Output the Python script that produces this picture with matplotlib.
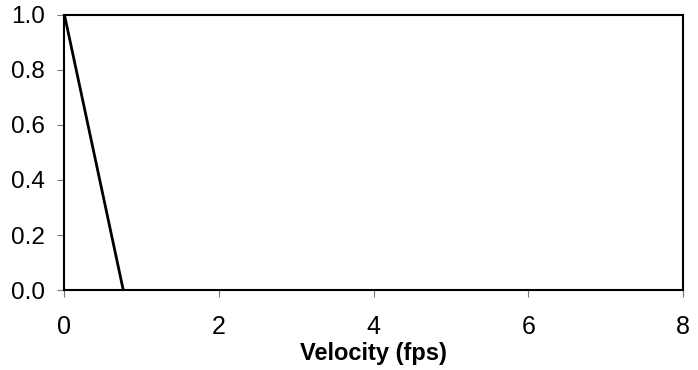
import matplotlib
matplotlib.use("Agg")
import matplotlib.pyplot as plt

velocity = [0.0, 0.76]
value = [1.0, 0.0]
x_ticks = [0, 2, 4, 6, 8]
y_ticks = [0.0, 0.2, 0.4, 0.6, 0.8, 1.0]

plt.rcParams['font.family'] = ['Liberation Sans', 'DejaVu Sans']

fig = plt.figure(figsize=(6.98, 3.70), dpi=100)
ax = fig.add_axes([0.0924, 0.2162, 0.8861, 0.7433])

ax.plot(velocity, value, color='black', lw=2.0, solid_capstyle='butt')
ax.set_xlim(0, 8)
ax.set_ylim(0, 1.0)
ax.set_xticks(x_ticks)
ax.set_yticks(y_ticks)
ax.set_yticklabels([f"{v:.1f}" for v in y_ticks])
for s in ax.spines.values():
    s.set_linewidth(1.5)
    s.set_color('black')
ax.tick_params(axis='x', direction='out', length=5, width=0.8, color='#777777',
               labelsize=18, pad=13)
ax.tick_params(axis='y', direction='out', length=5, width=0.8, color='#777777',
               labelsize=17.5, pad=9)
ax.set_xlabel('Velocity (fps)', fontsize=17, fontweight='bold', labelpad=2)

fig.savefig('out.png', dpi=100)
